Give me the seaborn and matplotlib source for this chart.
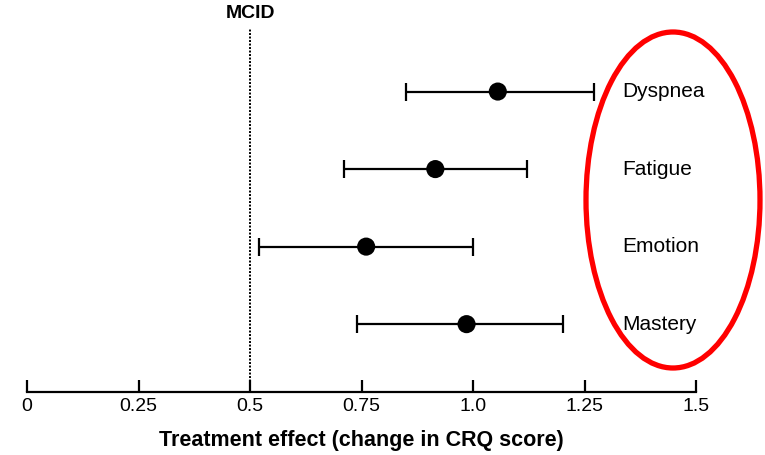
import matplotlib
matplotlib.use("Agg")
import matplotlib.pyplot as plt
from matplotlib.patches import Ellipse
import pandas as pd
import seaborn as sns

# CRQ domains, point estimates and 95% CI
domains = ["Dyspnea", "Fatigue", "Emotion", "Mastery"]
effect = [1.055, 0.915, 0.76, 0.985]
ci_low = [0.85, 0.71, 0.52, 0.74]
ci_high = [1.27, 1.12, 1.00, 1.20]

mcid = 0.5
x_ticks = [0, 0.25, 0.5, 0.75, 1.0, 1.25, 1.5]
x_tick_labels = ["0", "0.25", "0.5", "0.75", "1.0", "1.25", "1.5"]


def main() -> None:
    sns.set_theme(style="white")
    plt.rcParams["font.family"] = ["Liberation Sans", "DejaVu Sans"]
    plt.rcParams["text.color"] = "black"
    plt.rcParams["axes.labelcolor"] = "black"
    plt.rcParams["xtick.color"] = "black"

    df = pd.DataFrame({"domain": domains, "effect": effect, "lo": ci_low, "hi": ci_high})
    df["pos"] = range(len(df))

    fig = plt.figure(figsize=(7.65, 4.55), dpi=100)
    ax = fig.add_axes([0.0353, 0.1385, 0.875, 0.9385 - 0.1385])

    ax.errorbar(
        df["effect"], df["pos"],
        xerr=[df["effect"] - df["lo"], df["hi"] - df["effect"]],
        fmt="none", ecolor="black", elinewidth=1.6, capsize=6.5, capthick=1.6, zorder=2,
    )
    sns.scatterplot(data=df, x="effect", y="pos", color="black", s=170, edgecolor="none", ax=ax, zorder=3)

    y_top, y_bottom = -0.82, 3.875
    ax.vlines(mcid, y_bottom, y_top, colors="black", linestyles=(0, (1, 0.8)), linewidth=1.4)
    ax.text(mcid, y_top - 0.08, "MCID", ha="center", va="bottom", fontsize=14, fontweight="bold")

    for _, row in df.iterrows():
        ax.text(1.333, row["pos"], row["domain"], ha="left", va="center", fontsize=15)

    ax.set_xlim(0, 1.5)
    ax.set_ylim(y_bottom, y_top)
    ax.set_xticks(x_ticks)
    ax.set_xticklabels(x_tick_labels, fontsize=14)
    ax.set_yticks([])
    ax.set_ylabel("")
    ax.set_xlabel("Treatment effect (change in CRQ score)", fontsize=15.5, fontweight="bold", labelpad=11)
    ax.tick_params(axis="x", direction="in", length=9, width=1.6, pad=4, bottom=True)
    for side in ["left", "right", "top"]:
        ax.spines[side].set_visible(False)
    ax.spines["bottom"].set_color("black")
    ax.spines["bottom"].set_linewidth(1.6)
    ax.patch.set_alpha(0)

    # red highlight ring around the domain labels
    fig.add_artist(Ellipse((6.73, 2.55), 1.74, 3.36, fill=False, edgecolor="red",
                           linewidth=3.8, transform=fig.dpi_scale_trans))

    fig.savefig("out.png", dpi=100)
    plt.close(fig)


if __name__ == "__main__":
    main()
